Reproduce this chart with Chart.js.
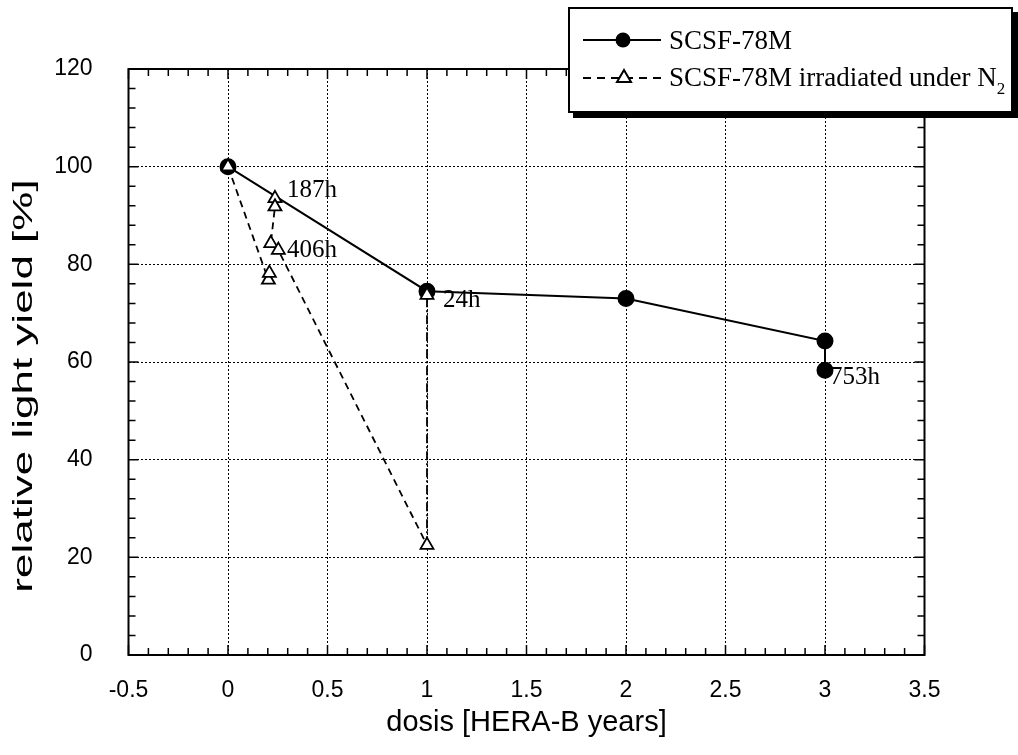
<!DOCTYPE html>
<html>
<head>
<meta charset="utf-8">
<title>relative light yield</title>
<script src="https://cdn.jsdelivr.net/npm/chart.js@4.4.0/dist/chart.umd.min.js"></script>
<style>
  html, body { margin: 0; padding: 0; background: #fff; }
  #wrap { position: relative; width: 1018px; height: 755px; }
  #legend {
    position: absolute; left: 568px; top: 7px; width: 441px; height: 102px;
    border: 2px solid #000; background: #fff; box-shadow: 5px 5px 0 #000;
    font-family: "Liberation Serif", "Times New Roman", serif; font-size: 27px; color: #000;
  }
  .row { position: absolute; left: 13px; height: 30px; display: flex; align-items: center; white-space: nowrap; }
  .row svg { margin-right: 8px; }
  sub { font-size: 17px; vertical-align: -8px; line-height: 0; }
</style>
</head>
<body>
<div id="wrap">
  <canvas id="myChart" width="1018" height="755"></canvas>
  <div id="legend">
    <div class="row" style="top:16px">
      <svg width="78" height="20"><line x1="0" y1="10" x2="78" y2="10" stroke="#000" stroke-width="2"/><circle cx="40" cy="10" r="7.5" fill="#000"/></svg>
      <span>SCSF-78M</span>
    </div>
    <div class="row" style="top:53px">
      <svg width="78" height="20"><line x1="0" y1="11" x2="78" y2="11" stroke="#000" stroke-width="2" stroke-dasharray="8,6"/><polygon points="41,3 48,15 34,15" fill="#fff" stroke="#000" stroke-width="2"/></svg>
      <span>SCSF-78M irradiated under N<sub>2</sub></span>
    </div>
  </div>
</div>
<script>
// data
const doseNormal = [0, 1, 2, 3, 3];
const yieldNormal = [100, 74.5, 73, 64.3, 58.3];

// N2 sample, null splits the path
const doseN2 = [0, 0.203, 0.208, null, 0.236, 0.236, 0.215, 0.253, 1, 1];
const yieldN2 = [100, 76.8, 78.2, null, 93.5, 91.8, 84.3, 82.9, 22.5, 73.7];

const xTicks = [-0.5, 0, 0.5, 1, 1.5, 2, 2.5, 3, 3.5];
const yTicks = [0, 20, 40, 60, 80, 100, 120];

const xTitle = 'dosis [HERA-B years]';
const yTitle = 'relative light yield [%]';

// recovery time notes
const noteText = ['187h', '406h', '24h', '753h'];
const noteX = [0.296, 0.296, 1.08, 3.025];
const noteY = [95.2, 82.9, 72.7, 56.9];

function toPoints(xs, ys) {
    return xs.map((x, i) => ({ x: x, y: ys[i] }));
}

const lastN2 = doseN2.length - 1;

// frame and inward ticks on all four sides
const framePlugin = {
    id: 'frame',
    beforeDatasetsDraw(chart) {
        const ctx = chart.ctx;
        const a = chart.chartArea;
        const x = chart.scales.x;
        const y = chart.scales.y;
        ctx.save();
        ctx.strokeStyle = '#000';
        ctx.lineWidth = 1.5;
        ctx.beginPath();
        for (let i = 0; i <= 40; i++) {
            const px = x.getPixelForValue(-0.5 + i * 0.1);
            const len = i % 5 === 0 ? 10 : 7;
            ctx.moveTo(px, a.bottom); ctx.lineTo(px, a.bottom - len);
            ctx.moveTo(px, a.top); ctx.lineTo(px, a.top + len);
        }
        for (let i = 0; i <= 30; i++) {
            const py = y.getPixelForValue(i * 4);
            const len = i % 5 === 0 ? 10 : 7;
            ctx.moveTo(a.left, py); ctx.lineTo(a.left + len, py);
            ctx.moveTo(a.right, py); ctx.lineTo(a.right - len, py);
        }
        ctx.stroke();
        ctx.lineWidth = 2;
        ctx.strokeRect(a.left, a.top, a.right - a.left, a.bottom - a.top);
        ctx.restore();
    },
    afterDatasetsDraw(chart) {
        const ctx = chart.ctx;
        ctx.save();
        ctx.fillStyle = '#000';
        ctx.font = '25px "Liberation Serif", "Times New Roman", serif';
        ctx.textAlign = 'left';
        ctx.textBaseline = 'middle';
        noteText.forEach((t, i) => {
            ctx.fillText(t, chart.scales.x.getPixelForValue(noteX[i]), chart.scales.y.getPixelForValue(noteY[i]));
        });
        ctx.restore();
    },
    afterDraw(chart) {
        // the y title in the original is stretched along its length
        const ctx = chart.ctx;
        ctx.save();
        ctx.fillStyle = '#000';
        ctx.font = '44px "Liberation Sans", Arial, sans-serif';
        ctx.textAlign = 'center';
        ctx.textBaseline = 'middle';
        ctx.translate(24, 386);
        ctx.rotate(-Math.PI / 2);
        ctx.scale(1, 0.62);
        ctx.fillText(yTitle, 0, 0);
        ctx.restore();
    }
};

const tickFont = { family: '"Liberation Sans", Arial, sans-serif', size: 23 };
const titleFont = { family: '"Liberation Sans", Arial, sans-serif', size: 29 };

const config = {
    type: 'scatter',
    data: {
        datasets: [{
            label: 'SCSF-78M irradiated under N2',
            data: toPoints(doseN2, yieldN2),
            showLine: true,
            spanGaps: false,
            order: 0,
            borderColor: '#000',
            borderWidth: 1.8,
            borderDash: [7, 5],
            segment: {
                borderDash: ctx => ctx.p0DataIndex === lastN2 - 1 ? [9, 3, 2, 3] : undefined
            },
            pointStyle: 'triangle',
            pointRadius: 7.5,
            pointBackgroundColor: '#fff',
            pointBorderColor: '#000',
            pointBorderWidth: 1.8
        }, {
            label: 'SCSF-78M',
            data: toPoints(doseNormal, yieldNormal),
            showLine: true,
            order: 1,
            borderColor: '#000',
            borderWidth: 2,
            pointStyle: 'circle',
            pointRadius: 7.5,
            pointBackgroundColor: '#000',
            pointBorderColor: '#000'
        }]
    },
    options: {
        responsive: false,
        animation: false,
        devicePixelRatio: 1,
        layout: { padding: { left: 0, right: 93.5, top: 69, bottom: 0 } },
        plugins: { legend: { display: false }, tooltip: { enabled: false } },
        scales: {
            x: {
                type: 'linear',
                min: -0.5,
                max: 3.5,
                afterBuildTicks: s => { s.ticks = xTicks.map(v => ({ value: v })); },
                afterFit: s => { s.height = 100; },
                grid: { color: '#000', lineWidth: 1, drawTicks: false },
                border: { display: false, dash: [2, 2] },
                ticks: { color: '#000', font: tickFont, padding: 22, maxRotation: 0, autoSkip: false, callback: v => String(v) },
                title: { display: true, text: xTitle, color: '#000', font: titleFont, padding: { top: 15, bottom: 15 } }
            },
            y: {
                type: 'linear',
                min: 0,
                max: 120,
                afterBuildTicks: s => { s.ticks = yTicks.map(v => ({ value: v })); },
                afterFit: s => { s.width = 128.5; },
                grid: { color: '#000', lineWidth: 1, drawTicks: false },
                border: { display: false, dash: [2, 2] },
                ticks: { color: '#000', font: tickFont, padding: 36, autoSkip: false, callback: v => String(v) }
            }
        }
    },
    plugins: [framePlugin]
};

const myChart = new Chart(document.getElementById('myChart'), config);
</script>
</body>
</html>
